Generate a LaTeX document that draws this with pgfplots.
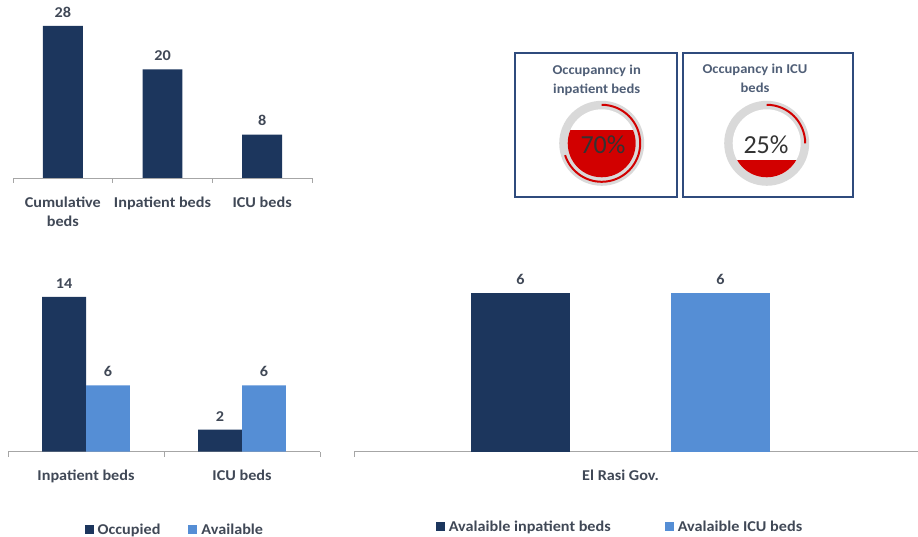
\documentclass[border=0pt]{standalone}
\usepackage{fontspec}
\setmainfont{Carlito}[FakeStretch=1.08]
\newfontfamily\gaugefont{Carlito}
\usepackage{pgfplots}
\pgfplotsset{compat=1.18}
\definecolor{navy}{RGB}{28,54,93}
\definecolor{lblue}{RGB}{85,142,213}
\definecolor{textc}{RGB}{64,72,86}
\definecolor{titlec}{RGB}{79,94,118}
\definecolor{axisgray}{RGB}{166,166,166}
\definecolor{boxblue}{RGB}{47,75,125}
\definecolor{ringgray}{RGB}{217,217,217}
\definecolor{gred}{RGB}{210,0,0}
\newcommand\lab{\fontsize{15}{19}\bfseries\selectfont}
\pgfplotsset{
  panel/.style={
    scale only axis, anchor=south west, clip=false,
    axis x line*=bottom, axis y line=none,
    x axis line style={-, draw=axisgray, line width=0.9pt},
    ymin=0, ybar,
    /pgf/number format/assume math mode=true,
    major tick length=0pt, tick align=outside,
    every tick/.style={draw=axisgray, line width=0.9pt},
    tick label style={font=\lab, text=textc},
    xticklabel style={align=center, yshift=-15pt},
    extra x tick style={major tick length=5pt, xticklabel style={yshift=0pt}},
    nodes near coords,
    every node near coord/.append style={font=\lab, color=textc, yshift=5pt},
    legend style={draw=none, fill=none, font=\lab, text=textc, legend columns=2,
      /tikz/every odd column/.append style={column sep=2pt}},
    legend image code/.code={\fill[##1] (0pt,-4.5pt) rectangle (9pt,4.5pt);},
  }
}
\newcommand\gauge[3]{%
  \fill[ringgray] (#1,#2) circle (42.5pt);
  \fill[white] (#1,#2) circle (34pt);
  \begin{scope}
    \clip (#1,#2) circle (34pt);
    \fill[gred] ([shift={(-40pt,-40pt)}]#1,#2) rectangle ([shift={(40pt,{-34pt+68pt*#3})}]#1,#2);
  \end{scope}
  \draw[gred, line width=2pt] ([shift={(90:38.5pt)}]#1,#2) arc[start angle=90, end angle={90-360*#3}, radius=38.5pt];
}
\begin{document}
\begin{tikzpicture}[x=1pt,y=1pt]
\useasboundingbox (0,0) rectangle (918,537);

% Panel 1: total beds
\begin{axis}[panel, at={(13pt,359pt)}, width=299pt, height=163pt,
  xmin=-0.5, xmax=2.5, ymax=30, bar width=0.4,
  xtick={0,1,2}, xticklabels={Cumulative\\beds, Inpatient beds, ICU beds},
  extra x ticks={-0.5,0.5,1.5,2.5}, extra x tick labels={}]
\addplot[fill=navy, draw=none] coordinates {(0,28) (1,20) (2,8)};
\end{axis}

% Panel 2: occupied / available
\begin{axis}[panel, at={(8pt,85.3pt)}, width=312pt, height=177pt,
  xmin=-0.5, xmax=1.5, ymax=16, bar width=0.282,
  xtick={0,1}, xticklabels={Inpatient beds, ICU beds},
  extra x ticks={-0.5,0.5,1.5}, extra x tick labels={},
  legend style={at={(0.535,-0.44)}, anchor=center,
    /tikz/every even column/.append style={column sep=26pt}}]
\addplot[fill=navy, draw=none, bar shift=-0.141] coordinates {(0,14) (1,2)};
\addplot[fill=lblue, draw=none, bar shift=0.141] coordinates {(0,6) (1,6)};
\legend{Occupied, Available}
\end{axis}

% Panel 3: El Rasi Gov.
\begin{axis}[panel, at={(354pt,85.3pt)}, width=564pt, height=185.5pt,
  xmin=-2.665, xmax=2.975, ymax=7, bar width=0.99,
  xtick={0}, xticklabels={El Rasi Gov.},
  extra x ticks={-2.665}, extra x tick labels={},
  legend style={at={(0.4716,-0.404)}, anchor=center,
    /tikz/every even column/.append style={column sep=52pt}}]
\addplot[fill=navy, draw=none, bar shift=-1] coordinates {(0,6)};
\addplot[fill=lblue, draw=none, bar shift=1] coordinates {(0,6)};
\legend{Avalaible inpatient beds, Avalaible ICU beds}
\end{axis}

% Gauges
\draw[boxblue, line width=2pt] (515,340.3) rectangle (676.7,483.7);
\draw[boxblue, line width=2pt] (682.7,340.3) rectangle (853,483.7);
\node[align=center, text=titlec, font=\fontsize{13.5}{19}\bfseries\selectfont] at (596.7,456.2) {Occupanncy in\\inpatient beds};
\node[align=center, text=titlec, font=\fontsize{13.5}{19}\bfseries\selectfont] at (755,458.7) {Occupancy in ICU\\beds};
\gauge{601.7}{393.7}{0.70}
\gauge{766.7}{393.7}{0.25}
\node[text=black!80, font=\gaugefont\fontsize{26}{28}\selectfont] at (603,392) {70\%};
\node[text=black!80, font=\gaugefont\fontsize{26}{28}\selectfont] at (766,392) {25\%};
\end{tikzpicture}
\end{document}
